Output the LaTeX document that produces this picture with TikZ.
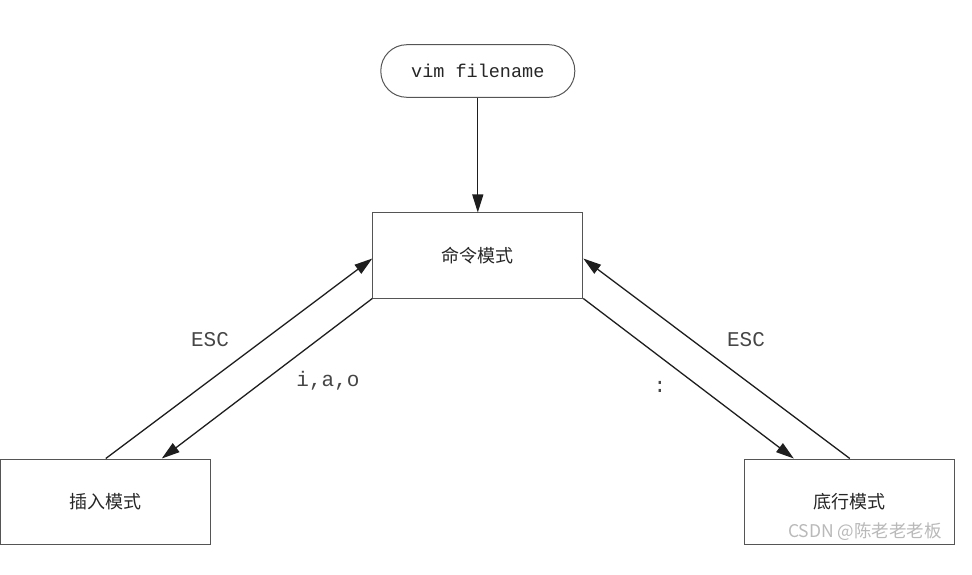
\documentclass[tikz,border=0pt]{standalone}
\usepackage{fontspec}
\setmonofont{Liberation Mono}
\newfontfamily\cjk{Noto Sans CJK SC}
\usepackage{xcolor}
\usetikzlibrary{arrows.meta, positioning}
\definecolor{edgegray}{RGB}{30, 30, 30}
\definecolor{boxborder}{RGB}{85, 85, 85}
\definecolor{labeltext}{RGB}{70, 70, 70}
\definecolor{marktext}{RGB}{185, 185, 185}
\tikzset{
  x=1pt, y=1pt,
  modebox/.style={
    rectangle, draw=boxborder, line width=1pt, fill=white,
    minimum width=210pt, minimum height=85pt, inner sep=0pt,
    font=\cjk\fontsize{18}{21}\selectfont, text=black!85
  },
  startbox/.style={
    rectangle, rounded corners=26pt, draw=boxborder, line width=1pt,
    minimum width=194pt, minimum height=52.6pt, inner sep=0pt,
    font=\ttfamily\fontsize{18.5}{22}\selectfont, text=black!85
  },
  keylabel/.style={font=\ttfamily\fontsize{21}{24}\selectfont, text=labeltext},
  flowline/.style={
    draw=edgegray, line width=1.3pt, -{Triangle[length=18pt, width=11pt]}
  }
}
\begin{document}
\begin{tikzpicture}

  \useasboundingbox (0,0) rectangle (972,574);

  % start: open a file
  \node[startbox] (vim) at (477.8,503) {vim filename};

  % the three modes
  \node[modebox, below=114.7pt of vim] (cmd) {命令模式};
  \node[modebox, below left=160pt and 161pt of cmd] (ins) {插入模式};
  \node[modebox, below right=160pt and 161pt of cmd] (bot) {底行模式};

  \draw[flowline] (vim) -- (cmd);
  \draw[flowline] (ins.north) -- ([yshift=-3pt]cmd.west);
  \draw[flowline] (cmd.south west) -- ([xshift=56pt]ins.north);
  \draw[flowline] (cmd.south east) -- ([xshift=-56pt]bot.north);
  \draw[flowline] (bot.north) -- ([yshift=-3pt]cmd.east);

  % key labels
  \node[keylabel] (escl) at (210,234) {ESC};
  \node[keylabel] (iao) at (328,193) {i,a,o};
  \node[keylabel] (escr) at (746,234) {ESC};
  \node[keylabel] (colon) at (660,187) {:};

  % watermark
  \node[font=\cjk\fontsize{17.5}{20}\selectfont, text=marktext] (mark) at (865,42) {CSDN @陈老老老板};

\end{tikzpicture}
\end{document}
